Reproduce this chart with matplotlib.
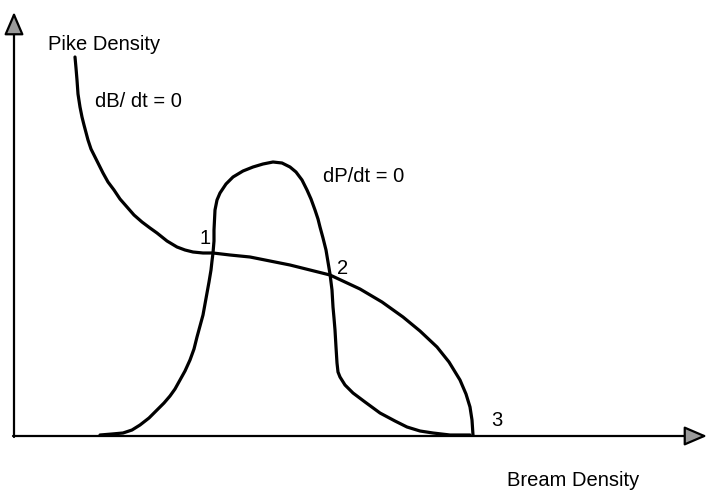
import matplotlib
matplotlib.use("Agg")
import matplotlib.pyplot as plt

plt.rcParams['font.family'] = ['Liberation Sans', 'DejaVu Sans']

# curves, in pixel units of the 708x491 image (y grows downward)
prey_x = [75, 76, 77, 78, 80, 82, 84, 88, 91, 95, 99, 103, 108, 114, 120, 127,
          134, 142, 150, 157, 167, 177, 185, 193, 203, 213, 230, 250, 270, 290,
          310, 330, 345, 360, 382, 403, 420, 437, 449, 460, 466, 470, 472, 473]
prey_y = [57, 68, 80, 94, 107, 117, 125, 140, 149, 157, 165, 173, 182, 190, 199, 207,
          215, 222, 228, 233, 241, 247, 250, 252, 253, 253, 255, 257, 261, 265,
          270, 275, 282, 289, 302, 317, 331, 347, 362, 380, 394, 407, 420, 435]

pred_x = [100, 112, 123, 132, 140, 149, 157, 164, 170, 175, 180, 185, 190, 194,
          197, 200, 203, 205, 207, 209, 211, 212, 213, 214, 214, 215, 217, 220,
          226, 233, 243, 253, 263, 273, 282, 290, 296, 302, 307, 311, 315, 318,
          320, 323, 326, 328, 330, 332, 333, 334, 335, 336, 337, 338, 340, 345,
          353, 365, 380, 395, 407, 420, 433, 450, 470]
pred_y = [435, 434, 433, 430, 425, 418, 410, 403, 396, 389, 380, 371, 360, 349,
          337, 326, 315, 304, 293, 282, 270, 261, 253, 241, 230, 210, 200, 193,
          184, 177, 171, 167, 164, 162, 163, 167, 172, 180, 190, 199, 210, 219,
          227, 238, 250, 262, 274, 290, 307, 318, 330, 347, 363, 372, 377, 385,
          393, 402, 413, 421, 427, 431, 433, 435, 435]

# equilibrium labels
eq_labels = ['1', '2', '3']
eq_x = [205, 343, 497]
eq_y = [238, 269, 420]

fig = plt.figure(figsize=(7.08, 4.91), dpi=100)
ax = fig.add_axes([0, 0, 1, 1])
ax.set_xlim(0, 708)
ax.set_ylim(491, 0)
ax.axis('off')

# axes with grey arrow heads
arrow = dict(arrowstyle='-|>,head_length=1.4,head_width=0.6', lw=1.6,
             color='black', fc='#9a9a9a', shrinkA=0, shrinkB=0)
ax.annotate('', xy=(707, 436), xytext=(13, 436), arrowprops=arrow)
ax.annotate('', xy=(14, 12), xytext=(14, 437), arrowprops=arrow)

ax.plot(prey_x, prey_y, color='black', lw=2.3, solid_capstyle='round', solid_joinstyle='round')
ax.plot(pred_x, pred_y, color='black', lw=2.3, solid_capstyle='round', solid_joinstyle='round')

fs = 14.5
ax.text(48, 44, 'Pike Density', fontsize=fs, va='center', ha='left')
ax.text(507, 481, 'Bream Density', fontsize=fs, va='center', ha='left')
ax.text(95, 101, 'dB/ dt = 0', fontsize=fs, va='center', ha='left')
ax.text(323, 176, 'dP/dt = 0', fontsize=fs, va='center', ha='left')
for lab, x, y in zip(eq_labels, eq_x, eq_y):
    ax.text(x, y, lab, fontsize=fs, va='center', ha='center')

fig.savefig('out.png', dpi=100)
